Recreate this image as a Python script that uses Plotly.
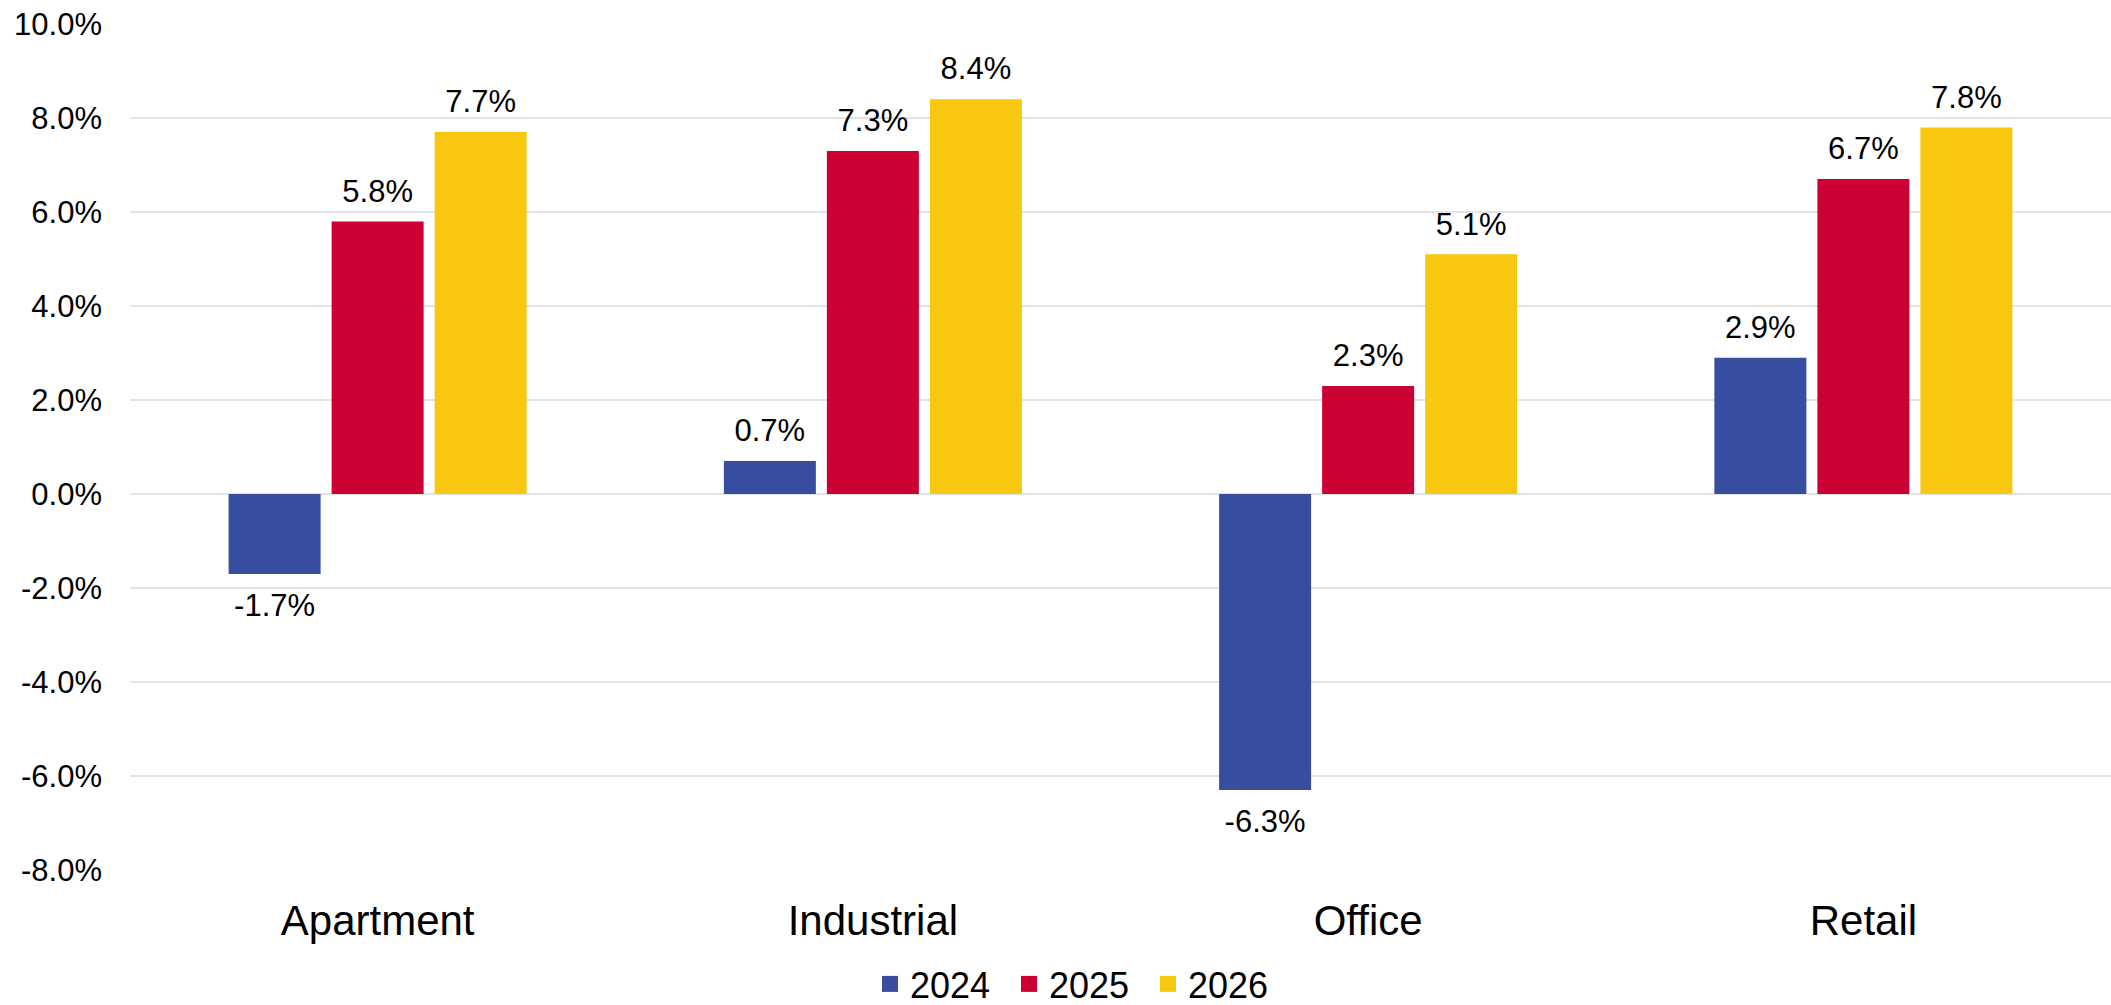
import plotly.graph_objects as go

categories = ["Apartment", "Industrial", "Office", "Retail"]
years = ["2024", "2025", "2026"]
values_2024 = [-1.7, 0.7, -6.3, 2.9]
values_2025 = [5.8, 7.3, 2.3, 6.7]
values_2026 = [7.7, 8.4, 5.1, 7.8]
y_tick_values = [-8, -6, -4, -2, 0, 2, 4, 6, 8, 10]
y_tick_labels = ["-8.0%", "-6.0%", "-4.0%", "-2.0%", "0.0%", "2.0%", "4.0%", "6.0%", "8.0%", "10.0%"]

series = [values_2024, values_2025, values_2026]
colors = ["#374DA0", "#CC0033", "#F9C70F"]
FONT = "Liberation Sans, Arial, sans-serif"
BARGAP = 0.376

fig = go.Figure()
for i, (name, vals) in enumerate(zip(years, series)):
    fig.add_trace(go.Bar(
        x=categories, y=vals, name=name,
        marker=dict(color=colors[i], line=dict(width=0)),
        offsetgroup=str(i), showlegend=False,
        hoverinfo="x+y+name",
    ))
for i, (name, vals) in enumerate(zip(years, series)):
    labels = [f"{v:.1f}%" for v in vals]
    fig.add_trace(go.Scatter(
        x=categories, y=vals, mode="markers+text",
        text=labels,
        textposition=["top center" if v >= 0 else "bottom center" for v in vals],
        textfont=dict(family=FONT, size=31, color="#000000"),
        marker=dict(size=[17.6 if v >= 0 else 28 for v in vals], opacity=0, color=colors[i]),
        offsetgroup=str(i),
        showlegend=False, hoverinfo="skip", cliponaxis=False,
    ))
# legend entries (square swatches)
for i, name in enumerate(years):
    fig.add_trace(go.Scatter(
        x=[None], y=[None], mode="markers", name=name,
        marker=dict(symbol="square", size=19, color=colors[i], line=dict(width=0)),
        offsetgroup=str(i), showlegend=True, hoverinfo="skip",
    ))

fig.update_layout(
    width=2111, height=1005,
    margin=dict(l=130, r=0, t=24, b=135),
    paper_bgcolor="white", plot_bgcolor="white",
    barmode="group", bargap=BARGAP, bargroupgap=0.107,
    scattermode="group", scattergap=BARGAP,
    font=dict(family=FONT, color="#000000"),
    showlegend=True,
    legend=dict(
        orientation="h", xref="container", yref="container",
        x=870 / 2111, xanchor="left", y=(1005 - 984) / 1005, yanchor="middle",
        font=dict(family=FONT, size=36, color="#000000"),
        bgcolor="rgba(0,0,0,0)", traceorder="normal",
        entrywidth=94, entrywidthmode="pixels",
    ),
)
fig.update_xaxes(
    range=[-0.5, 3.5], type="category", showgrid=False, showline=False, zeroline=False,
    ticks="", tickfont=dict(family=FONT, size=42, color="#000000"), ticklabelstandoff=22,
)
fig.update_yaxes(
    range=[-8, 10], tickvals=y_tick_values, ticktext=y_tick_labels,
    showgrid=True, gridcolor="#e3e3e3", gridwidth=2, zeroline=False, showline=False,
    ticks="", tickfont=dict(family=FONT, size=31, color="#000000"), ticklabelstandoff=27,
)

fig.write_html("out.html")
